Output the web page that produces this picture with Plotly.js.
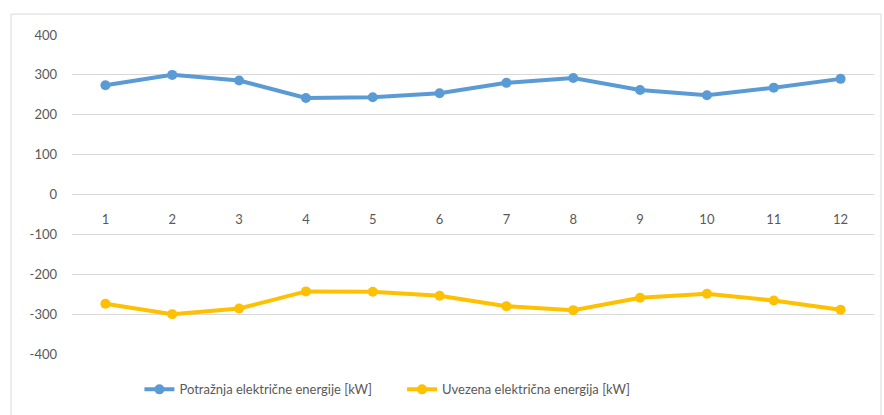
<!DOCTYPE html>
<html>
<head>
<meta charset="utf-8">
<script src="https://cdn.plot.ly/plotly-3.0.1.min.js"></script>
<style>html,body{margin:0;padding:0;background:#fff;}#chart{width:884px;height:415px;}</style>
</head>
<body>
<div id="chart"></div>
<script>
const months = [1,2,3,4,5,6,7,8,9,10,11,12];
const potraznja = [274, 300, 286, 242, 244, 254, 280, 292, 262, 249, 268, 290];
const uvezena = [-274, -300, -286, -243, -244, -254, -280, -290, -259, -249, -266, -289];
const seriesNames = ['Potražnja električne energije [kW]', 'Uvezena električna energija [kW]'];
const yTicks = [-400, -300, -200, -100, 0, 100, 200, 300, 400];

const traces = [
  {x: months, y: potraznja, name: seriesNames[0], type: 'scatter', mode: 'lines+markers',
   line: {color: '#5b9bd5', width: 4}, marker: {color: '#5b9bd5', size: 10}, legend: 'legend'},
  {x: months, y: uvezena, name: seriesNames[1], type: 'scatter', mode: 'lines+markers',
   line: {color: '#ffc000', width: 4}, marker: {color: '#ffc000', size: 10}, legend: 'legend2'}
];

const px2x = p => (p - 71.5) / 803;
const legFont = {size: 13, color: '#595959'};

const layout = {
  width: 884, height: 415,
  margin: {l: 71.5, r: 9.5, t: 34.5, b: 60.5, autoexpand: false},
  paper_bgcolor: '#fff', plot_bgcolor: '#fff',
  font: {family: 'Lato, "Open Sans", sans-serif', size: 13, color: '#595959'},
  showlegend: true,
  legend: {orientation: 'h', x: px2x(139), xanchor: 'left', y: -0.111, yanchor: 'middle', font: legFont, bgcolor: 'rgba(0,0,0,0)'},
  legend2: {orientation: 'h', x: px2x(402), xanchor: 'left', y: -0.111, yanchor: 'middle', font: legFont, bgcolor: 'rgba(0,0,0,0)'},
  xaxis: {type: 'linear', range: [0.5, 12.5], tickvals: months, ticktext: months.map(String),
          showgrid: false, zeroline: false, showline: false, ticks: '',
          anchor: 'free', position: 0.5, ticklabelstandoff: 15, fixedrange: true},
  yaxis: {range: [-400, 400], tickvals: yTicks, ticktext: yTicks.map(v => v < 0 ? '-' + Math.abs(v) : String(v)),
          showgrid: true, gridcolor: '#d9d9d9', gridwidth: 1,
          zeroline: true, zerolinecolor: '#d9d9d9', zerolinewidth: 1,
          showline: false, ticks: '', ticklabelstandoff: 14, fixedrange: true},
  shapes: [{type: 'rect', xref: 'paper', yref: 'paper',
            x0: px2x(10.5), x1: px2x(881.5),
            y0: -70 / 320, y1: 1 + 21 / 320,
            line: {color: '#d9d9d9', width: 1}, fillcolor: 'rgba(0,0,0,0)', layer: 'below'}]
};

Plotly.newPlot('chart', traces, layout, {displayModeBar: false, staticPlot: true});
</script>
</body>
</html>
